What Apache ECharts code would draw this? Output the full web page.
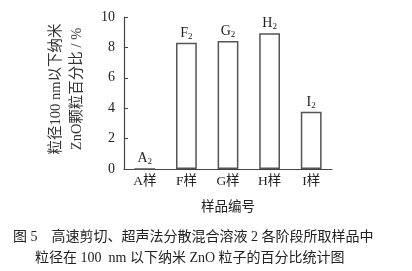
<!DOCTYPE html>
<html><head><meta charset="utf-8">
<script src="https://cdn.jsdelivr.net/npm/echarts@6/dist/echarts.min.js"></script>
<style>html,body{margin:0;padding:0;background:#fff}#c{width:412px;height:271px}</style>
</head><body><div id="c"></div>
<script>
var categories = ['A样','F样','G样','H样','I样'];
var values = [0, 8.3, 8.42, 8.93, 3.77];
var barLetters = ['A','F','G','H','I'];
var yTicks = [0,2,4,6,8,10];
var xName = '样品编号';
var yNameLines = ['粒径100 nm以下纳米','ZnO颗粒百分比 / %'];
var captionLines = ['图 5\u3000高速剪切、超声法分散混合溶液 2 各阶段所取样品中','粒径在 100  nm 以下纳米 ZnO 粒子的百分比统计图'];

var serif = '"Liberation Serif","Noto Sans CJK SC",serif';
var cjk = '"Liberation Serif","Noto Sans CJK SC",serif';
var chart = echarts.init(document.getElementById('c'), null, {renderer:'canvas'});
chart.setOption({
  animation:false,
  backgroundColor:'#fff',
  grid:{left:124,right:80,top:17,bottom:102},
  xAxis:{type:'category',data:categories,
    axisLine:{lineStyle:{color:'#444',width:1.2}},
    axisTick:{show:false},
    axisLabel:{color:'#222',fontFamily:cjk,fontSize:13.5,margin:6},
    name:xName,nameLocation:'middle',nameGap:32,
    nameTextStyle:{color:'#222',fontFamily:cjk,fontSize:13.5}
  },
  yAxis:{type:'value',min:yTicks[0],max:yTicks[yTicks.length-1],interval:2,
    axisLine:{show:true,lineStyle:{color:'#444',width:1.2}},
    axisTick:{show:true,inside:true,length:4,lineStyle:{color:'#444'}},
    splitLine:{show:false},
    axisLabel:{color:'#222',fontFamily:serif,fontSize:14,margin:9}
  },
  series:[{type:'bar',data:values,barWidth:'50%',
    itemStyle:{color:'#fff',borderColor:'#555',borderWidth:1.5},
    label:{show:true,position:'top',distance:2,
      formatter:function(p){return '{a|'+barLetters[p.dataIndex]+'}{b|2}';},
      rich:{a:{fontFamily:serif,fontSize:14,color:'#222'},
            b:{fontFamily:serif,fontSize:9,color:'#222',padding:[6,0,0,0]}}
    }
  }],
  graphic:[
    {type:'text',x:67,y:89,rotation:Math.PI/2,
      style:{text:yNameLines.join('\n'),fontFamily:cjk,fontSize:14.5,lineHeight:21,
        fill:'#333',align:'center',verticalAlign:'middle'}},
    {type:'text',left:13,top:230,
      style:{text:captionLines[0],fontFamily:cjk,fontSize:14,fill:'#222'}},
    {type:'text',left:35,top:251,
      style:{text:captionLines[1],fontFamily:cjk,fontSize:14,fill:'#222'}}
  ]
});
</script></body></html>
